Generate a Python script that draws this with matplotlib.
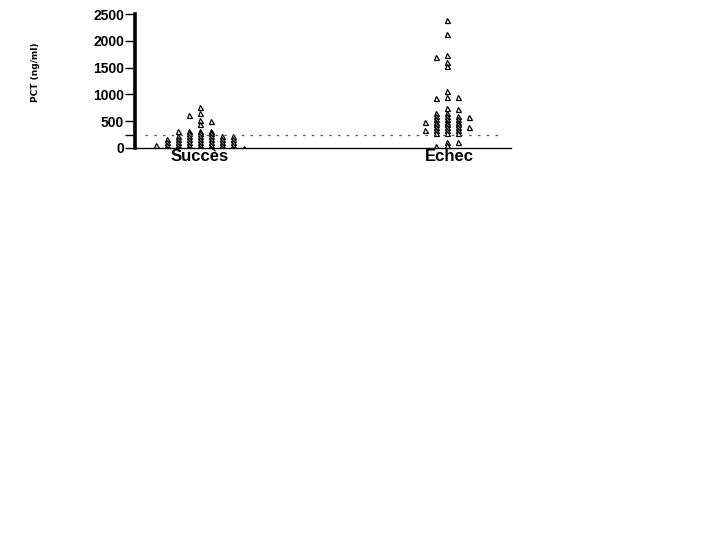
import matplotlib
matplotlib.use("Agg")
import matplotlib.pyplot as plt

categories = ["Succès", "Echec"]

succes = [760, 650, 610, 520, 500, 440,
          320, 320, 320, 320,
          270, 270, 270,
          215, 215, 215, 215, 215, 215,
          160, 160, 160, 160, 160, 160, 160,
          105, 105, 105, 105, 105, 105, 105,
          55, 55, 55, 55, 55, 55, 55, 55,
          5, 5, 5, 5, 5, 5, 5, 5]

echec = [2380, 2120, 1730, 1700, 1600, 1530, 1060, 960, 950, 940,
         740, 730, 660, 660, 600, 600, 600, 580,
         545, 545, 545, 490, 490, 490, 490,
         440, 440, 440, 390, 390, 390, 390,
         335, 335, 335, 335, 285, 285, 285,
         110, 110, 50, 40]

cutoff = 250
yticks = [0, 500, 1000, 1500, 2000, 2500]
ylabel = "PCT (ng/ml)"


def swarm(values, center, step=0.044, thr=50):
    # column beeswarm: stack in a column, move sideways when too close,
    # alternating the side tried first
    placed = {}
    xs = []
    left_first = True
    for v in values:
        k = 0
        done = False
        while not done:
            if k == 0:
                cols = [0]
            else:
                cols = [-k, k] if left_first else [k, -k]
            for col in cols:
                if all(abs(v - w) >= thr for w in placed.get(col, [])):
                    placed.setdefault(col, []).append(v)
                    xs.append(center + col * step)
                    if col != 0:
                        left_first = not left_first
                    done = True
                    break
            k += 1
    return xs


fig = plt.figure(figsize=(7.2, 5.4), dpi=100)
ax = fig.add_axes([0.1875, 0.726, 0.522, 0.248])

for i, vals in enumerate([succes, echec]):
    ax.plot(swarm(vals, i - 0.01 * i), vals, linestyle="none", marker="^", markersize=3.6,
            markerfacecolor="white", markeredgecolor="black", markeredgewidth=0.9)

ax.axhline(cutoff, xmin=0.027, xmax=0.976, color="#555555", lw=0.9,
           linestyle=(0, (2, 5)))

ax.set_xlim(-0.26, 1.244)
ax.set_ylim(0, 2500)
ax.set_yticks(yticks + [cutoff])
ax.set_yticklabels([str(t) for t in yticks] + [""])
ax.set_xticks([0, 1])
ax.set_xticklabels(categories, fontsize=12, fontweight="bold", family="Liberation Sans")
ax.tick_params(axis="x", length=0, pad=1)
ax.tick_params(axis="y", length=7.5, width=1.0, pad=0.5, labelsize=10)
for lab in ax.get_yticklabels():
    lab.set_fontweight("bold")
    lab.set_family("Liberation Sans")

ax.spines["top"].set_visible(False)
ax.spines["right"].set_visible(False)
ax.spines["left"].set_linewidth(2.6)
ax.spines["bottom"].set_linewidth(1.0)

ax.set_ylabel(ylabel, fontsize=6.5, fontweight="bold")
ax.yaxis.set_label_coords(-0.253, 0.567)

fig.savefig("out.png", dpi=100)
